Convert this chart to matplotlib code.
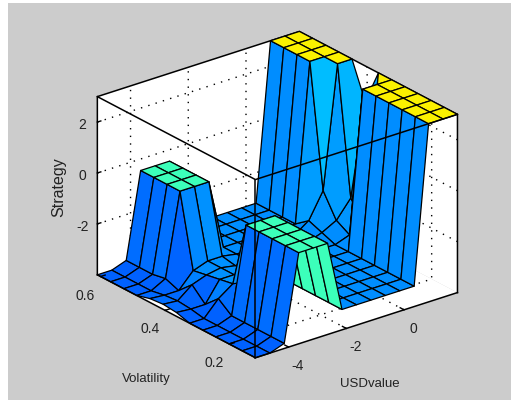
"""Fuzzy-controller decision surface, MATLAB gensurf look."""

import matplotlib
matplotlib.use("Agg")
import matplotlib.pyplot as plt
from matplotlib.patches import Rectangle
from mpl_toolkits.mplot3d import proj3d
from mpl_toolkits.mplot3d.art3d import Poly3DCollection
import numpy as np

plt.rcParams["font.family"] = ["Liberation Sans", "DejaVu Sans"]

usd_value = [-5.15, -4.65, -4.15, -3.65, -3.15, -2.65, -2.15, -1.65, -1.15,
             -0.65, -0.15, 0.35, 0.85, 1.35, 1.85]
volatility = [0.12, 0.161, 0.202, 0.243, 0.283, 0.324, 0.365, 0.406, 0.447,
              0.488, 0.528, 0.569, 0.61]

# rows follow usd_value, columns follow volatility
strategy = [
    [-4.0, -4.0, -4.0, -4.0, -4.0, -4.0, -3.85, -3.8, -3.85, -4.0, -4.0, -4.0, -4.0],
    [-4.0, -4.0, -4.0, -4.0, -4.0, -4.0, -3.9, -3.85, -3.9, -4.0, -4.0, -4.0, -4.0],
    [-3.8, -3.8, -3.8, -3.8, -3.8, -3.4, -3.9, -3.4, -3.9, -3.7, -3.8, -3.8, -3.8],
    [-0.42, -0.42, -0.42, -0.42, -0.42, -3.0, -3.1, -3.2, -3.3, -0.45, -0.45, -0.45, -0.45],
    [-0.42, -0.42, -0.42, -0.42, -0.42, -3.1, -3.1, -3.1, -3.1, -0.45, -0.45, -0.45, -0.45],
    [-0.42, -0.42, -0.42, -0.42, -0.42, -3.2, -3.2, -3.2, -3.1, -0.45, -0.45, -0.45, -0.45],
    [-3.2, -3.2, -3.2, -3.2, -3.2, -3.2, -3.2, -3.2, -3.2, -3.2, -3.2, -3.2, -3.2],
    [-3.2, -3.2, -3.2, -3.2, -3.2, -3.2, -3.2, -3.2, -3.2, -3.2, -3.2, -3.2, -3.2],
    [-3.2, -3.2, -3.2, -3.2, -3.2, -3.2, -3.2, -3.2, -3.2, -3.2, -3.2, -3.2, -3.2],
    [-3.2, -3.2, -3.2, -3.2, -3.2, -3.2, -3.2, -3.2, -3.2, -3.2, -3.2, -3.2, -3.2],
    [-3.2, -3.2, -3.2, -3.2, -3.2, -3.2, -3.2, -3.2, -3.2, -3.2, -3.2, -3.2, -3.2],
    [-3.2, -3.2, -3.2, -3.2, -3.2, -3.2, -3.2, -3.0, -2.8, -3.2, -3.2, -3.2, -3.2],
    [3.0, 3.0, 3.0, 3.0, 3.0, 3.0, -3.0, -2.7, -1.8, 3.0, 3.0, 3.0, 3.0],
    [3.0, 3.0, 3.0, 3.0, 3.0, 3.0, -2.8, -2.0, 3.0, 3.0, 3.0, 3.0, 3.0],
    [3.0, 3.0, 3.0, 3.0, 3.0, 3.0, 3.0, 1.6, 3.0, 3.0, 3.0, 3.0, 3.0],
]

usd_ticks = [-4, -2, 0]
vol_ticks = [0.2, 0.4, 0.6]
strategy_ticks = [-2, 0, 2]
x_lo, x_hi = -5.15, 1.85
y_lo, y_hi = 0.12, 0.61
z_lo, z_hi = -4, 3

# strategy level to jet position
level_stops = [-4.0, -3.2, -1.8, -0.5, 3.0]
jet_stops = [0.22, 0.265, 0.31, 0.42, 0.655]

W, H = 511, 400
fig = plt.figure(figsize=(W / 100, H / 100), dpi=100, facecolor="white")
fig.add_artist(Rectangle((8 / W, 0), 503 / W, 397 / H, transform=fig.transFigure,
                         facecolor="#cccccc", edgecolor="none", zorder=-5))

ax = fig.add_axes([72 / W, 0, 400 / W, 1], projection="3d", computed_zorder=False)
ax.set_proj_type("ortho")
ax.view_init(elev=24.3, azim=-128.1)
ax.set_box_aspect((256.6, 256, 195.4))
ax.set_xlim(x_lo, x_hi, view_margin=0)
ax.set_ylim(y_lo, y_hi, view_margin=0)
ax.set_zlim(z_lo, z_hi, view_margin=0)
ax.set_axis_off()
ax.patch.set_alpha(0)

# white back walls and floor
walls = [
    [(x_lo, y_lo, z_lo), (x_hi, y_lo, z_lo), (x_hi, y_hi, z_lo), (x_lo, y_hi, z_lo)],
    [(x_hi, y_lo, z_lo), (x_hi, y_hi, z_lo), (x_hi, y_hi, z_hi), (x_hi, y_lo, z_hi)],
    [(x_lo, y_hi, z_lo), (x_hi, y_hi, z_lo), (x_hi, y_hi, z_hi), (x_lo, y_hi, z_hi)],
]
wall_poly = Poly3DCollection(walls, facecolor="white", edgecolor="none", zorder=0)
ax.add_collection3d(wall_poly)

grid_kw = dict(color="black", lw=1.0, ls=(0, (1, 4.5)), zorder=1)
for t in usd_ticks:
    ax.plot([t, t, t], [y_lo, y_hi, y_hi], [z_lo, z_lo, z_hi], **grid_kw)
for t in vol_ticks:
    ax.plot([x_lo, x_hi, x_hi], [t, t, t], [z_lo, z_lo, z_hi], **grid_kw)
for t in strategy_ticks:
    ax.plot([x_lo, x_hi, x_hi], [y_hi, y_hi, y_lo], [t, t, t], **grid_kw)

# back box edges, below the surface
line_kw = dict(color="black", lw=1.1, zorder=1.5)
ax.plot([x_lo, x_lo, x_hi, x_hi, x_hi], [y_hi, y_hi, y_hi, y_lo, y_lo],
        [z_lo, z_hi, z_hi, z_hi, z_lo], **line_kw)

# surface, each cell coloured by its first corner like MATLAB faceted shading
X, Y = np.meshgrid(usd_value, volatility, indexing="ij")
Z = np.array(strategy)
cell_colors = plt.get_cmap("jet")(np.interp(Z, level_stops, jet_stops))
cell_colors[3:6, 4] = cell_colors[6, 4]  # back face of the front ridge stays out of sight
ax.plot_surface(X, Y, Z, rstride=1, cstride=1, facecolors=cell_colors, shade=False,
                edgecolor="black", linewidth=0.9, zorder=2)

# front box edges drawn over the surface
top_kw = dict(color="black", lw=1.1, zorder=3)
ax.plot([x_lo, x_lo, x_hi], [y_hi, y_lo, y_lo], [z_hi, z_hi, z_hi], **top_kw)
ax.plot([x_lo, x_lo], [y_lo, y_lo], [z_lo, z_hi], **top_kw)
ax.plot([x_lo, x_lo, x_hi], [y_hi, y_lo, y_lo], [z_lo, z_lo, z_lo], **top_kw)

proj = ax.get_proj()


def tick_label(x, y, z, text, dx, dy):
    sx, sy, _ = proj3d.proj_transform(x, y, z, proj)
    ax.annotate(text, (sx, sy), xytext=(dx, dy), textcoords="offset pixels",
                fontsize=10, color="#222222", ha="center", va="center",
                annotation_clip=False)


tick_kw = dict(color="black", lw=1.0, zorder=3)
for t in usd_ticks:
    ax.plot([t, t], [y_lo, y_lo + 0.012], [z_lo, z_lo], **tick_kw)
    tick_label(t, y_lo, z_lo, f"{t}", 9, -19)
for t in vol_ticks:
    ax.plot([x_lo, x_lo + 0.16], [t, t], [z_lo, z_lo], **tick_kw)
    tick_label(x_lo, t, z_lo, f"{t}", -15, -19)
for t in strategy_ticks:
    ax.plot([x_lo, x_lo + 0.12], [y_hi, y_hi], [t, t], **tick_kw)
    tick_label(x_lo, y_hi, t, f"{t}", -15, -3)

fig.text(59 / W, 1 - 187 / H, "Strategy", rotation=90, ha="center", va="center",
         fontsize=11.5, color="#222222")
fig.text(146 / W, 1 - 379 / H, "Volatility", ha="center", va="center",
         fontsize=9.5, color="#222222")
fig.text(370 / W, 1 - 384 / H, "USDvalue", ha="center", va="center",
         fontsize=9.5, color="#222222")

fig.savefig("out.png", dpi=100)
plt.close(fig)
